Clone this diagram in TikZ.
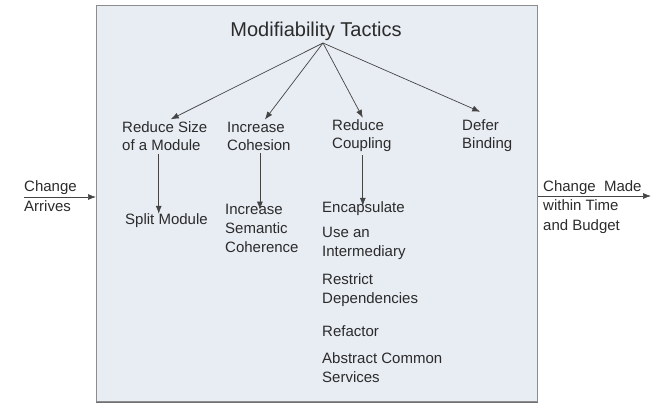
\documentclass[tikz,border=0pt]{standalone}
\usepackage{fontspec}
\setmainfont{Liberation Sans}
\usetikzlibrary{arrows.meta,calc}
\definecolor{boxfill}{HTML}{E8ECF3}
\definecolor{boxline}{HTML}{8C8C8C}
\definecolor{txt}{HTML}{2B2B2B}
\definecolor{arr}{HTML}{444444}
\tikzset{
  lbl/.style={anchor=west, inner sep=0pt, align=left, text=txt, font=\fontsize{15}{19}\selectfont},
  lbltwo/.style={lbl, font=\fontsize{15}{18}\selectfont},
  conn/.style={draw=arr, line width=0.7pt, -{Latex[length=8pt,width=6pt]}}
}
\begin{document}
\begin{tikzpicture}[x=1pt,y=-1pt]
\useasboundingbox (0,0) rectangle (659,411);
\node[draw=boxline, fill=boxfill, line width=0.8pt, minimum width=441pt, minimum height=396pt, anchor=north west, inner sep=0pt] (box) at (96,5.5) {};
\draw[boxline!80!black, line width=1.2pt] (box.south west) -- (box.south east);

\node[anchor=center, inner sep=0pt, text=txt, font=\fontsize{20}{23}\selectfont] (title) at (316,31) {Modifiability Tactics};
\coordinate (apex) at (323,43);

\node[lbltwo] (rs) at (122,136) {Reduce Size\\of a Module};
\node[lbltwo] (ic) at (227,136) {Increase\\Cohesion};
\node[lbltwo] (rc) at (332,136) {Reduce\\Coupling};
\node[lbltwo] (db) at (462,136) {Defer\\Binding};

\draw[conn] (apex) -- ([xshift=6pt,yshift=2pt]rs.north);
\draw[conn] (apex) -- ([xshift=6pt,yshift=2pt]ic.north);
\draw[conn] (apex) -- ([xshift=1pt,yshift=2pt]rc.north);
\draw[conn] (apex) -- ([xshift=-7pt,yshift=8pt]db.north);

\node[lbl] (sm) at (125,221) {Split Module};
\node[lbl] (isc) at (225,228) {Increase\\Semantic\\Coherence};
\node[lbl] (enc) at (322,209) {Encapsulate};
\node[lbl] (uai) at (322,243) {Use an\\Intermediary};
\node[lbl] (rd) at (322,290) {Restrict\\Dependencies};
\node[lbl] (ref) at (322,331) {Refactor};
\node[lbl] (acs) at (322,368) {Abstract Common\\Services};

\draw[conn] ([xshift=-6pt,yshift=-3pt]rs.south) -- ([xshift=-6pt]rs.south |- sm.north);
\draw[conn] ([xshift=1pt,yshift=-3pt]ic.south) -- ([xshift=1pt,yshift=-6pt]ic.south |- isc.north);
\draw[conn] ([xshift=1pt,yshift=-3pt]rc.south) -- ([xshift=1pt,yshift=-4pt]rc.south |- enc.north);

\node[lbl, font=\fontsize{15}{20}\selectfont] (ca) at (24,196) {Change\\Arrives};
\coordinate (inL) at (24,197);
\draw[conn] (inL) -- (inL -| box.west);

\node[lbl, font=\fontsize{15}{19.5}\selectfont] (cm) at (543,207) {Change\ \ Made\\within Time\\and Budget};
\coordinate (outR) at (651,196);
\draw[conn] (outR -| box.east) -- (outR);
\end{tikzpicture}
\end{document}
